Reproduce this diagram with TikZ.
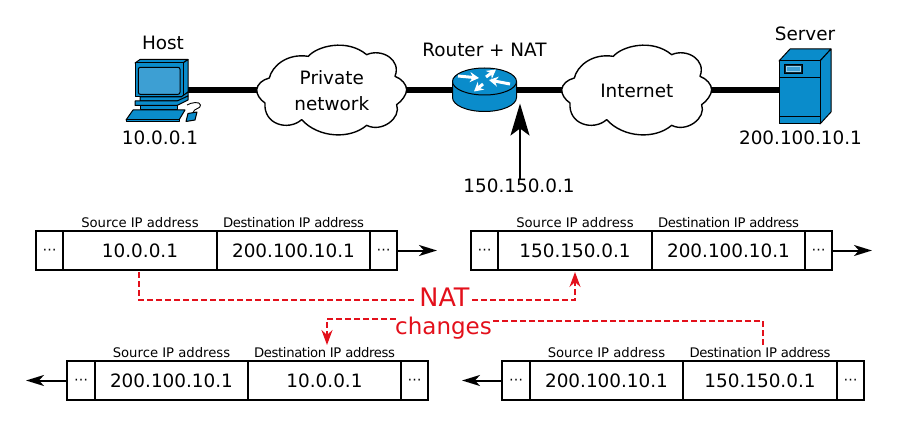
\documentclass[tikz,border=0pt]{standalone}
\usepackage{fontspec}
\setmainfont{DejaVu Sans}
\usetikzlibrary{arrows.meta,backgrounds}
\definecolor{devblue}{HTML}{0A8CCB}
\definecolor{screenblue}{HTML}{3D9FD3}
\definecolor{natred}{HTML}{E3101B}
\tikzset{
  x=1pt,y=-1pt,
  iconpart/.style={draw=black,fill=devblue,line width=1pt,line join=round},
  cloudoutline/.style={draw=black,fill=white,line width=1.4pt,line join=round},
  cloudbox/.style={inner sep=0pt,outer sep=0pt,minimum width=149pt,minimum height=20pt,align=center,font=\fontsize{18.4}{26.5}\selectfont},
  netlabel/.style={font=\fontsize{18.4}{26}\selectfont,inner sep=0pt,align=center},
  backbone/.style={line width=6pt,black},
  anchorbox/.style={inner sep=0pt,outer sep=0pt,minimum height=20pt},
  cell/.style={draw=black,line width=2pt,minimum height=39pt,inner sep=0pt,outer sep=0pt,font=\fontsize{18.4}{22}\selectfont},
  fieldname/.style={font=\fontsize{13.2}{15}\selectfont,inner sep=0pt,anchor=base},
  flow/.style={line width=2pt,-{Stealth[length=18pt,width=11pt,inset=5pt]}},
  natlink/.style={draw=natred,line width=2pt,dash pattern=on 6pt off 3pt},
  natarrow/.style={natlink,-{Stealth[length=15pt,width=11pt,inset=5pt]}},
  natlabel/.style={text=natred,inner sep=0pt},
  routerarrow/.style={white,line width=3pt,-{Stealth[length=9pt,width=10pt]}}
}
% Cloud outline, written in thirds of a point from its own corner
\newcommand{\cloudpath}[2]{%
  \begin{scope}[shift={(#1,#2)},x=.3333pt,y=-.3333pt]
    \filldraw[cloudoutline] (20,155)
      .. controls (22,138) and (38,125) .. (58,120)
      .. controls (66,85) and (110,45) .. (175,55)
      .. controls (200,25) and (290,0) .. (350,50)
      .. controls (395,30) and (455,65) .. (435,115)
      .. controls (455,122) and (470,140) .. (470,155)
      .. controls (470,170) and (455,190) .. (440,200)
      .. controls (455,240) and (395,285) .. (350,262)
      .. controls (300,305) and (205,300) .. (155,245)
      .. controls (115,280) and (40,260) .. (45,195)
      .. controls (30,185) and (20,170) .. (20,155) -- cycle;
  \end{scope}}
\newcommand{\fieldcell}{\raisebox{-4pt}[0pt][0pt]{\fontsize{14}{14}\selectfont ⋯}}
% One packet: prefix, five cell edges, vertical centre, source text, destination text
\newcommand{\packetrow}[9]{%
  \node[cell,minimum width={(#3-#2)*1pt}] (#1a) at ({(#2+#3)/2},#7) {\fieldcell};
  \node[cell,minimum width={(#4-#3)*1pt}] (#1s) at ({(#3+#4)/2},#7) {#8};
  \node[cell,minimum width={(#5-#4)*1pt}] (#1d) at ({(#4+#5)/2},#7) {#9};
  \node[cell,minimum width={(#6-#5)*1pt}] (#1z) at ({(#5+#6)/2},#7) {\fieldcell};
  \node[fieldname] (#1sl) at ({(#3+#4)/2},{#7-23}) {Source IP address};
  \node[fieldname] (#1dl) at ({(#4+#5)/2},{#7-23}) {\addfontfeature{LetterSpace=-2.8}Destination IP address};
}
\begin{document}
\begin{tikzpicture}
\useasboundingbox (0,0) rectangle (898,428);

% Clouds with their captions
\cloudpath{250}{38}
\cloudpath{555}{38}
\node[cloudbox] (private) at (331.8,90.5) {Private\\network};
\node[cloudbox] (internet) at (636.8,90.5) {Internet};

% Host: monitor, stand, keyboard, mouse
\node[anchorbox,minimum width=48pt] (host) at (164,90.5) {};
\filldraw[iconpart] (135,63) -- (140,59.5) -- (188,59.5) -- (183,63) -- cycle;
\filldraw[iconpart] (183,63) -- (188,59.5) -- (188,92) -- (183,97) -- cycle;
\filldraw[iconpart] (135,63) rectangle (183,97);
\filldraw[draw=black,fill=screenblue,line width=1pt,rounded corners=2pt] (138.3,67.3) rectangle (180,94.3);
\filldraw[iconpart] (140,97) -- (181,97) -- (188,92) -- (188,96) -- (179,101) -- (140,101) -- cycle;
\filldraw[iconpart] (135,101) -- (177,101) -- (188,96) -- (188,100) -- (177,105.5) -- (135,105.5) -- cycle;
\filldraw[iconpart] (140,105.5) rectangle (177,109.5);
\filldraw[iconpart] (133,110) -- (185,110) -- (179,120) -- (126,120) -- cycle;
\filldraw[iconpart] (126,120) -- (179,120) -- (179,122) -- (126,122) -- cycle;
\filldraw[iconpart] (188,113.5) -- (197,112) -- (195,120) -- (186,121.5) -- cycle;
\draw[line width=.9pt] (187,105) .. controls (191,102.5) and (200,101) .. (200.5,105) .. controls (201,109) and (194,108) .. (193,112.5);

% Router: cylinder with four white arrows
\node[anchorbox,minimum width=64pt] (router) at (484.5,90.5) {};
\filldraw[iconpart] (452.5,81.5) -- (452.5,97.5) arc[start angle=180,end angle=360,x radius=32pt,y radius=14pt] -- (516.5,81.5) -- cycle;
\filldraw[iconpart] (484.5,81.5) ellipse[x radius=32pt,y radius=13.5pt];
\draw[routerarrow] (458,76) -- (479,78);
\draw[routerarrow] (486,77) -- (496,69.5);
\draw[routerarrow] (510,84) -- (489,80);
\draw[routerarrow] (483,84) -- (474,91.5);

% Server tower
\node[anchorbox,minimum width=41pt] (server) at (799.5,90.5) {};
\filldraw[iconpart] (779,61) -- (790,49) -- (831,49) -- (820,61) -- cycle;
\filldraw[iconpart] (820,61) -- (831,49) -- (831,112) -- (820,124) -- cycle;
\filldraw[iconpart] (779,61) rectangle (820,124);
\draw[line width=1pt] (779,78) -- (820,78) (779,117) -- (820,117);
\filldraw[draw=black,fill=black!70!devblue,line width=.6pt] (784,64) rectangle (802,73);
\filldraw[draw=white!60!devblue,fill=screenblue,line width=.8pt] (786.5,66.5) rectangle (800,71);

% Network links run behind the icons and clouds
\begin{pgfonlayer}{background}
  \draw[backbone] (host.east) -- (private.west);
  \draw[backbone] (private.east) -- (router.west);
  \draw[backbone] (router.east) -- (internet.west);
  \draw[backbone] (internet.east) -- (server.west);
\end{pgfonlayer}

% Device labels
\node[netlabel] (hostlabel) at (163,43) {Host};
\node[netlabel] (hostip) at (160,138) {10.0.0.1};
\node[netlabel] (routerlabel) at (484.5,50) {Router + NAT};
\node[netlabel] (serverlabel) at (805,33.5) {Server};
\node[netlabel] (serverip) at (800.5,138) {200.100.10.1};
\node[netlabel] (publicip) at (519,186) {150.150.0.1};
\coordinate (routeredge) at (520,103.5);
\draw[line width=2pt,-{Stealth[length=32pt,width=19pt,inset=7pt]}] (publicip.north -| routeredge) -- (routeredge);

% Packets before and after translation
\packetrow{pa}{36}{63}{217}{370}{397}{250.5}{10.0.0.1}{200.100.10.1}
\packetrow{pb}{471}{498}{652}{805}{832}{250.5}{150.150.0.1}{200.100.10.1}
\packetrow{pc}{67}{95}{248}{401}{428}{380.5}{200.100.10.1}{10.0.0.1}
\packetrow{pd}{502}{530}{683}{837}{864}{380.5}{200.100.10.1}{150.150.0.1}

% Direction of travel
\coordinate (paout) at (437,250.5);
\coordinate (pbout) at (872,250.5);
\coordinate (pcout) at (26,380.5);
\coordinate (pdout) at (462,380.5);
\draw[flow] (paz.east) -- (paout);
\draw[flow] (pbz.east) -- (pbout);
\draw[flow] (pca.west) -- (pcout);
\draw[flow] (pda.west) -- (pdout);

% Address rewriting
\node[natlabel,font=\fontsize{25.5}{28}\selectfont] (nat) at (444.5,297) {NAT};
\node[natlabel,font=\fontsize{23}{28}\selectfont] (changes) at (443.5,328) {changes};
\coordinate (natl) at (415,300);
\coordinate (natr) at (472,300);
\coordinate (chl) at (396,319);
\coordinate (chr) at (491,321);
\coordinate (srcin) at (139,272);
\coordinate (srcout) at (575,272);
\coordinate (dstin) at (763,345);
\coordinate (dstout) at (327,345);
\draw[natlink] (srcin) |- (natl);
\draw[natarrow] (natr) -| (srcout);
\draw[natlink] (dstin) |- (chr);
\draw[natarrow] (chl) -| (dstout);
\end{tikzpicture}
\end{document}
